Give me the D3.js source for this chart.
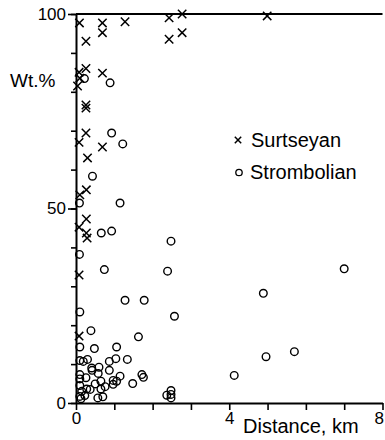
<!DOCTYPE html>
<html>
<head>
<meta charset="utf-8">
<script src="https://cdn.jsdelivr.net/npm/d3@7"></script>
<style>
  body { margin: 0; background: #fff; overflow: hidden; }
  svg { display: block; font-family: "Liberation Sans", Arial, sans-serif; }
</style>
</head>
<body>
<svg width="385" height="440"></svg>
<script>
// Surtseyan deposits: [distance km, wt.%]
const surtseyan = [
  [0.09, 97.7], [0.69, 97.7], [1.28, 98], [2.43, 99], [2.77, 100], [4.99, 99.5],
  [0.69, 95.2], [0.26, 93], [2.43, 93.5], [2.77, 95.2],
  [0.26, 86], [0.08, 85], [0.1, 83.5], [0.04, 81.5], [0.69, 84.8],
  [0.26, 76.6], [0.26, 75.8], [0.26, 69.4], [0.08, 67], [0.69, 65.8],
  [0.3, 63], [0.27, 54.8], [0.1, 53.5], [0.27, 47.3], [0.08, 45.2],
  [0.27, 43.7], [0.29, 42.4], [0.08, 32.9], [0.08, 17.2]
];

// Strombolian deposits: [distance km, wt.%]
const strombolian = [
  [0.89, 82.3], [0.22, 83.4], [0.93, 69.4], [1.22, 66.6], [0.43, 58.3],
  [0.09, 51.4], [1.15, 51.4], [0.66, 43.7], [0.93, 44.2], [2.48, 41.6],
  [0.09, 38.2], [0.74, 34.3], [2.39, 33.9], [7.0, 34.5], [4.89, 28.2],
  [1.28, 26.4], [1.78, 26.4], [0.1, 23.4], [2.57, 22.3], [0.39, 18.6],
  [1.63, 17], [0.1, 14.4], [0.48, 14], [1.06, 14.4], [4.96, 11.9], [5.7, 13.2],
  [0.1, 10.9], [0.3, 11.2], [0.19, 10.7], [0.87, 10.7], [1.04, 11.4], [1.34, 11.2],
  [0.41, 9], [0.42, 8.4], [0.6, 9.2], [0.58, 7.6], [0.87, 8.4], [0.1, 7.3],
  [0.1, 6.2], [0.26, 6.5], [0.65, 5.6], [0.5, 4.9], [0.97, 5.8], [1.06, 5.6],
  [1.15, 6.9], [0.97, 4.8], [1.48, 5], [1.72, 7.3], [1.76, 6.6], [4.13, 7.1],
  [0.1, 4.5], [0.28, 3.6], [0.15, 3], [0.1, 1.7], [0.37, 3.5], [0.76, 4.2],
  [0.65, 3.6], [0.57, 1.3], [0.7, 1.6], [0.23, 1.9], [0.13, 1.1],
  [2.37, 2], [2.48, 3.2], [2.48, 2.2], [2.48, 1.3]
];

const xTicks = [0, 1, 2, 3, 4, 5, 6, 7, 8];
const xLabels = [0, 4, 8];
const yTicks = [0, 10, 20, 30, 40, 50, 60, 70, 80, 90, 100];
const yLabels = [0, 50, 100];

const svg = d3.select('svg');
const margin = { top: 14, left: 76 };
const innerWidth = 306.5;
const innerHeight = 389;
const font = '"Liberation Sans", Arial, sans-serif';

const x = d3.scaleLinear().domain([0, 8]).range([0, innerWidth]);
const y = d3.scaleLinear().domain([0, 100]).range([innerHeight, 0]);

const g = svg.append('g')
  .attr('transform', `translate(${margin.left},${margin.top})`);

// minor y ticks (no labels)
g.append('g')
  .call(d3.axisLeft(y).tickValues(yTicks).tickSize(5).tickSizeOuter(0))
  .call(a => a.select('.domain').remove())
  .call(a => a.selectAll('text').remove())
  .selectAll('line').attr('stroke-width', 1.6);

// major y ticks with labels
g.append('g')
  .call(d3.axisLeft(y).tickValues(yLabels).tickSize(8).tickPadding(2).tickSizeOuter(0))
  .call(a => a.select('.domain').attr('stroke-width', 2))
  .call(a => a.selectAll('line').attr('stroke-width', 1.6))
  .call(a => a.selectAll('text').attr('font-size', 17).attr('fill', '#000')
    .attr('font-family', font));

// x axis: ticks every km, labels at 0, 4, 8
g.append('g')
  .attr('transform', `translate(0,${innerHeight})`)
  .call(d3.axisBottom(x).tickValues(xTicks).tickSize(7).tickSizeOuter(0))
  .call(a => a.select('.domain').attr('stroke-width', 2))
  .call(a => a.selectAll('line').attr('stroke-width', 1.6))
  .call(a => a.selectAll('.tick').filter(d => !xLabels.includes(d)).select('text').remove())
  .call(a => a.selectAll('text').attr('font-size', 17).attr('fill', '#000')
    .attr('font-family', font)
    .attr('y', 21).attr('dy', 0)
    .filter(d => d === 8).attr('text-anchor', 'end').attr('x', 1));

// top border at 100
g.append('line')
  .attr('x1', x(0)).attr('x2', x(8))
  .attr('y1', y(100)).attr('y2', y(100))
  .attr('stroke', '#000').attr('stroke-width', 2);

// axis titles
svg.append('text')
  .attr('x', 10).attr('y', 87)
  .attr('font-size', 19)
  .text('Wt.%');

svg.append('text')
  .attr('x', 243).attr('y', 433)
  .attr('font-size', 20)
  .text('Distance, km');

const cross = (sel, s) => sel.attr('d', `M${-s},${-s}L${s},${s}M${-s},${s}L${s},${-s}`)
  .attr('fill', 'none').attr('stroke', '#000').attr('stroke-width', 1.5);

// Surtseyan points
g.selectAll('path.surt')
  .data(surtseyan)
  .enter()
  .append('path')
  .attr('class', 'surt')
  .attr('transform', d => `translate(${x(d[0])},${y(d[1])})`)
  .call(cross, 4.2);

// Strombolian points
g.selectAll('circle.strom')
  .data(strombolian)
  .enter()
  .append('circle')
  .attr('class', 'strom')
  .attr('cx', d => x(d[0]))
  .attr('cy', d => y(d[1]))
  .attr('r', 3.8)
  .attr('fill', 'none')
  .attr('stroke', '#000')
  .attr('stroke-width', 1.4);

// legend
svg.append('path')
  .attr('transform', 'translate(238,140)')
  .call(cross, 3.2);
svg.append('text')
  .attr('x', 251).attr('y', 146.5)
  .attr('font-size', 20)
  .text('Surtseyan');

svg.append('circle')
  .attr('cx', 239).attr('cy', 172.5).attr('r', 3.2)
  .attr('fill', 'none').attr('stroke', '#000').attr('stroke-width', 1.3);
svg.append('text')
  .attr('x', 250).attr('y', 179)
  .attr('font-size', 20)
  .text('Strombolian');
</script>
</body>
</html>
